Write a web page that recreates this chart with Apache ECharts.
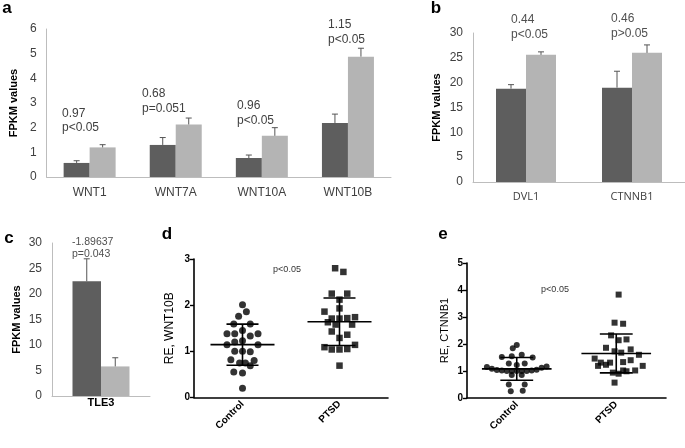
<!DOCTYPE html>
<html><head><meta charset="utf-8">
<script src="https://cdn.jsdelivr.net/npm/echarts@6/dist/echarts.min.js"></script>
<style>html,body{margin:0;padding:0;background:#fff}#c{width:685px;height:448px}</style>
</head><body><div id="c"></div>
<script>
// ---------- Panel a ----------
const catA = ['WNT1', 'WNT7A', 'WNT10A', 'WNT10B'];
const aDark = [0.57, 1.30, 0.77, 2.19];
const aDarkErr = [0.09, 0.30, 0.12, 0.36];
const aLight = [1.20, 2.13, 1.67, 4.88];
const aLightErr = [0.11, 0.26, 0.33, 0.34];
const aNotes = ['0.97\np<0.05', '0.68\np=0.051', '0.96\np<0.05', '1.15\np<0.05'];
// ---------- Panel b ----------
const catB = ['DVL1', 'CTNNB1'];
const bDark = [18.8, 19.0];
const bDarkErr = [0.8, 3.3];
const bLight = [25.6, 26.0];
const bLightErr = [0.6, 1.6];
const bNotes = ['0.44\np<0.05', '0.46\np>0.05'];
// ---------- Panel c ----------
const catC = ['TLE3'];
const cDark = [22.5];
const cDarkErr = [4.4];
const cLight = [5.8];
const cLightErr = [1.7];
const cNote = '-1.89637\np=0.043';
// ---------- Panel d ----------
const groups = ['Control', 'PTSD'];
const dControl = [[1.00,2.01],[0.96,1.76],[1.04,1.86],[0.91,1.59],[1.08,1.59],[0.84,1.38],[0.92,1.38],[1.00,1.45],[1.08,1.33],[1.16,1.38],[0.84,1.14],[0.92,1.20],[1.00,1.23],[1.16,1.14],[0.92,1.00],[1.00,1.00],[1.08,0.99],[0.88,0.82],[0.97,0.75],[1.03,0.75],[1.12,0.80],[1.08,0.69],[0.91,0.55],[1.00,0.53],[1.00,0.20]];
const dPTSD = [[1.955,2.80],[2.04,2.72],[1.92,2.25],[2.08,2.25],[2.00,2.12],[2.00,1.93],[1.845,1.86],[1.92,1.71],[2.00,1.71],[2.08,1.72],[2.16,1.74],[1.88,1.63],[1.96,1.58],[2.13,1.58],[1.92,1.43],[2.08,1.36],[2.00,1.29],[1.845,1.09],[1.92,1.04],[2.00,1.04],[2.08,1.05],[2.16,1.14],[2.00,0.69]];
const dMean = [1.145, 1.64];
const dSD = [0.445, 0.515];
const dNote = 'p<0.05';
// ---------- Panel e ----------
const eControl = [[1.00,1.96],[0.96,1.84],[0.85,1.52],[0.95,1.55],[1.05,1.60],[1.16,1.50],[0.92,1.28],[1.08,1.28],[1.00,1.22],[0.70,1.15],[1.30,1.17],[1.25,1.12],[0.75,1.08],[0.80,1.04],[0.85,1.02],[0.90,1.00],[0.95,1.00],[1.00,1.00],[1.05,1.00],[1.10,1.00],[1.15,1.02],[1.20,1.05],[0.95,0.85],[1.05,0.85],[0.92,0.50],[1.08,0.50],[0.94,0.25],[1.06,0.27]];
const ePTSD = [[2.024,3.83],[1.983,2.79],[2.069,2.75],[1.948,2.32],[2.024,2.14],[2.103,2.17],[1.897,1.86],[1.983,1.73],[2.05,1.68],[2.145,1.80],[2.228,1.60],[1.783,1.46],[1.845,1.31],[1.938,1.31],[2.069,1.33],[2.145,1.40],[1.817,1.19],[1.897,1.23],[2.069,1.02],[2.19,1.02],[2.266,1.19],[1.966,0.94],[2.024,0.90],[2.103,0.99],[1.983,0.57]];
const eMean = [1.08, 1.65];
const eSD = [0.42, 0.72];
const eNote = 'p<0.05';

const FONT = "'Liberation Sans', Arial, sans-serif";
const DARK = '#5e5e5e', LIGHT = '#b4b4b4', AXIS = '#bdbdbd', TXT = '#404040';

function errSeries(xi, yi, cats, vals, errs, side, bw) {
  return {
    type: 'custom', xAxisIndex: xi, yAxisIndex: yi, z: 5,
    data: cats.map((c, i) => [i, vals[i], errs[i]]),
    encode: { x: 0, y: 1 },
    renderItem: function (params, api) {
      const i = api.value(0), v = api.value(1), e = api.value(2);
      const p0 = api.coord([i, v]); const p1 = api.coord([i, v + e]);
      const x = p0[0] + side * bw / 2;
      const st = { stroke: '#555', lineWidth: 1 };
      return { type: 'group', children: [
        { type: 'line', shape: { x1: x, y1: p0[1], x2: x, y2: p1[1] }, style: st },
        { type: 'line', shape: { x1: x - 3, y1: p1[1], x2: x + 3, y2: p1[1] }, style: st }
      ]};
    }
  };
}
function barSeries(xi, yi, vals, color, bw) {
  return { type: 'bar', xAxisIndex: xi, yAxisIndex: yi, data: vals, barWidth: bw, barGap: '0%',
    itemStyle: { color: color }, silent: true };
}
function meanSeries(xi, yi, means, sds, half) {
  return {
    type: 'custom', xAxisIndex: xi, yAxisIndex: yi, z: 6,
    data: means.map((m, i) => [i + 1, m, sds[i]]),
    encode: { x: 0, y: 1 },
    renderItem: function (params, api) {
      const x = api.value(0), m = api.value(1), s = api.value(2);
      const st = { stroke: '#000', lineWidth: 1.6 };
      const L = (a, b) => ({ type: 'line', shape: { x1: a[0], y1: a[1], x2: b[0], y2: b[1] }, style: st });
      const cap = 0.165;
      return { type: 'group', children: [
        L(api.coord([x - half, m]), api.coord([x + half, m])),
        L(api.coord([x, m - s]), api.coord([x, m + s])),
        L(api.coord([x - cap, m + s]), api.coord([x + cap, m + s])),
        L(api.coord([x - cap, m - s]), api.coord([x + cap, m - s]))
      ]};
    }
  };
}
function barY(gi, max, iv, gap) {
  return { gridIndex: gi, type: 'value', min: 0, max: max, interval: iv,
    name: 'FPKM values', nameLocation: 'middle', nameGap: gap,
    nameTextStyle: { fontFamily: FONT, fontWeight: 'bold', fontSize: 11, color: '#000' },
    axisLine: { show: true, lineStyle: { color: AXIS, width: 1 } },
    axisTick: { show: false }, splitLine: { show: false },
    axisLabel: { fontFamily: FONT, fontSize: 12, color: TXT, margin: 10 } };
}
function barX(gi, cats, opts) {
  return Object.assign({ gridIndex: gi, type: 'category', data: cats,
    axisLine: { lineStyle: { color: AXIS, width: 1 } }, axisTick: { show: false },
    axisLabel: { fontFamily: FONT, fontSize: 12, color: TXT, margin: 10 } }, opts || {});
}
function scatX(gi) {
  return { gridIndex: gi, type: 'category', data: groups,
    axisLine: { lineStyle: { color: '#000', width: 1.6 } },
    axisTick: { alignWithLabel: true, length: 4, lineStyle: { color: '#000', width: 1.4 } },
    axisLabel: { rotate: 45, fontFamily: FONT, fontWeight: 'bold', fontSize: 10, color: '#000', margin: 5 } };
}
function scatVX(gi) {
  return { gridIndex: gi, type: 'value', min: 0.5, max: 2.5, show: false, splitLine: { show: false } };
}
function scatY(gi, max, name, gap, fs) {
  return { gridIndex: gi, type: 'value', min: 0, max: max, interval: 1,
    name: name, nameLocation: 'middle', nameGap: gap,
    nameTextStyle: { fontFamily: FONT, fontSize: fs, color: '#000' },
    axisLine: { show: true, lineStyle: { color: '#000', width: 1.6 } },
    axisTick: { show: true, length: 4, lineStyle: { color: '#000', width: 1.4 } },
    splitLine: { show: false },
    axisLabel: { fontFamily: FONT, fontWeight: 'bold', fontSize: 10, color: '#000', margin: 4 } };
}
function txt(t, x, y, size, opts) {
  return { type: 'text', silent: true, style: Object.assign({ text: t, x: x, y: y,
    font: (opts && opts.bold ? 'bold ' : '') + size + 'px ' + FONT,
    fill: (opts && opts.fill) || TXT, textAlign: (opts && opts.align) || 'left',
    textVerticalAlign: 'middle', lineHeight: (opts && opts.lh) || size + 2 }, {}) };
}

const chart = echarts.init(document.getElementById('c'), null, { renderer: 'canvas' });
chart.setOption({
  animation: false,
  backgroundColor: '#fff',
  grid: [
    { left: 31, top: 29, width: 360, height: 148 },
    { left: 473, top: 33, width: 212, height: 149 },
    { left: 52, top: 243, width: 98, height: 153 },
    { left: 194, top: 259, width: 194, height: 138.5 },
    { left: 467, top: 263, width: 199, height: 135 }
  ],
  xAxis: [
    barX(0, catA),
    barX(1, catB, { axisLabel: { fontFamily: "'Open Sans', sans-serif", fontSize: 11, color: TXT, margin: 9 } }),
    barX(2, catC, { axisLabel: { fontFamily: FONT, fontSize: 11, fontWeight: 'bold', color: '#000', margin: 1 } }),
    scatX(3), scatVX(3),
    scatX(4), scatVX(4)
  ],
  yAxis: [
    barY(0, 6, 1, 18),
    barY(1, 30, 5, 31),
    barY(2, 30, 5, 30),
    scatY(3, 3, 'RE, WNT10B', 18, 12),
    scatY(4, 5, 'RE, CTNNB1', 17, 11)
  ],
  series: [
    barSeries(0, 0, aDark, DARK, 26), barSeries(0, 0, aLight, LIGHT, 26),
    errSeries(0, 0, catA, aDark, aDarkErr, -1, 26), errSeries(0, 0, catA, aLight, aLightErr, 1, 26),
    barSeries(1, 1, bDark, DARK, 30), barSeries(1, 1, bLight, LIGHT, 30),
    errSeries(1, 1, catB, bDark, bDarkErr, -1, 30), errSeries(1, 1, catB, bLight, bLightErr, 1, 30),
    barSeries(2, 2, cDark, DARK, 28.5), barSeries(2, 2, cLight, LIGHT, 28.5),
    errSeries(2, 2, catC, cDark, cDarkErr, -1, 28.5), errSeries(2, 2, catC, cLight, cLightErr, 1, 28.5),
    { type: 'scatter', xAxisIndex: 4, yAxisIndex: 3, data: dControl, symbol: 'circle', symbolSize: 7, itemStyle: { color: '#000' } },
    { type: 'scatter', xAxisIndex: 4, yAxisIndex: 3, data: dPTSD, symbol: 'rect', symbolSize: 6.5, itemStyle: { color: '#000' } },
    meanSeries(4, 3, dMean, dSD, 0.33),
    { type: 'scatter', xAxisIndex: 6, yAxisIndex: 4, data: eControl, symbol: 'circle', symbolSize: 6, itemStyle: { color: '#000' } },
    { type: 'scatter', xAxisIndex: 6, yAxisIndex: 4, data: ePTSD, symbol: 'rect', symbolSize: 6, itemStyle: { color: '#000' } },
    meanSeries(6, 4, eMean, eSD, 0.35)
  ],
  graphic: [
    txt('a', 7, 8, 17, { bold: true, fill: '#000', align: 'center' }),
    txt('b', 436, 8, 17, { bold: true, fill: '#000', align: 'center' }),
    txt('c', 9, 238, 17, { bold: true, fill: '#000', align: 'center' }),
    txt('d', 167, 234, 17, { bold: true, fill: '#000', align: 'center' }),
    txt('e', 443, 234, 17, { bold: true, fill: '#000', align: 'center' }),
    txt(aNotes[0], 62, 120.5, 12, { lh: 14.5 }),
    txt(aNotes[1], 142, 101, 12, { lh: 14.5 }),
    txt(aNotes[2], 237, 113, 12, { lh: 14.5 }),
    txt(aNotes[3], 328, 32, 12, { lh: 14.5 }),
    txt(bNotes[0], 511, 27, 12, { lh: 14.5, fill: '#505050' }),
    txt(bNotes[1], 611, 26, 12, { lh: 14.5, fill: '#505050' }),
    txt(cNote, 72, 248, 10.5, { lh: 12, fill: '#505050' }),
    txt(dNote, 287, 270, 9, { align: 'center', fill: '#333' }),
    txt(eNote, 555, 290, 9, { align: 'center', fill: '#333' })
  ]
});
</script></body></html>
